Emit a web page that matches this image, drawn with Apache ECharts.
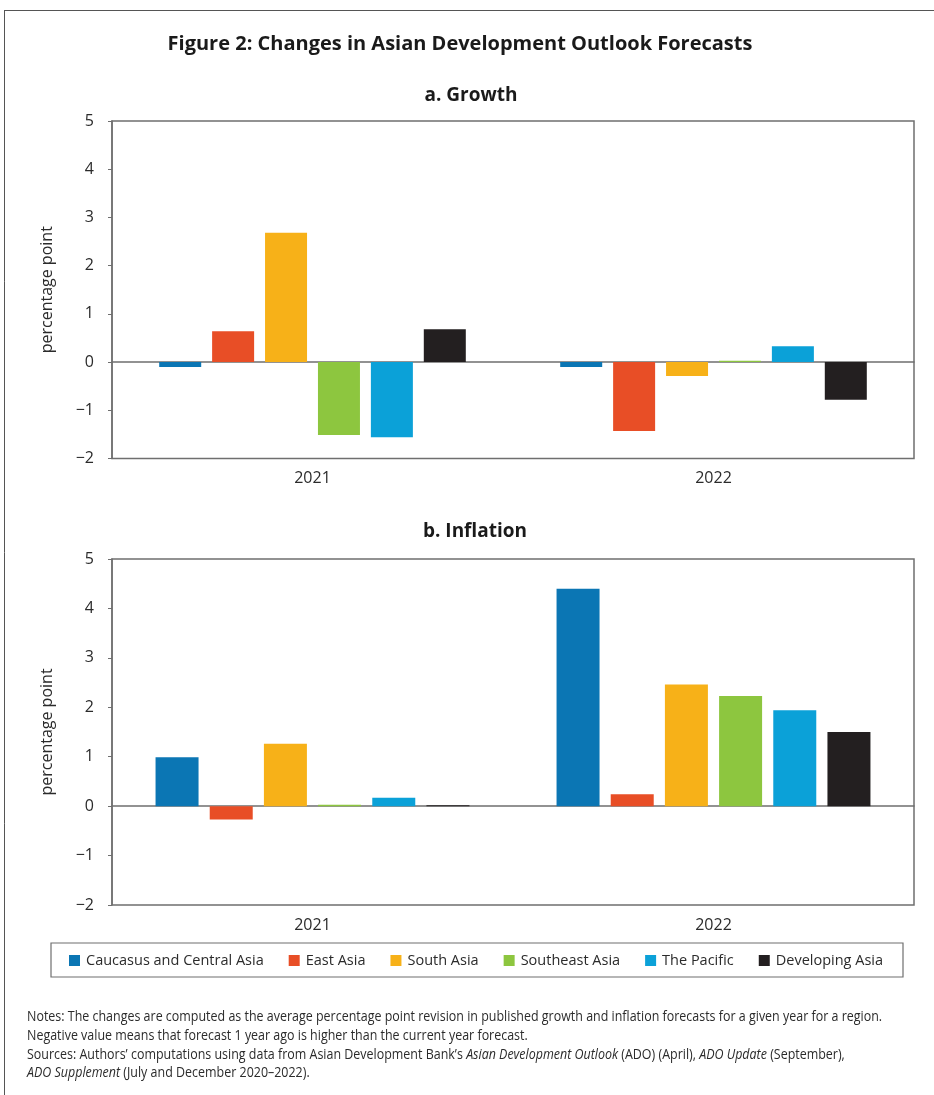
<!DOCTYPE html>
<html>
<head>
<meta charset="utf-8">
<title>Changes in Asian Development Outlook Forecasts</title>
<script src="https://cdn.jsdelivr.net/npm/echarts@6/dist/echarts.min.js"></script>
<style>
  html, body { margin: 0; padding: 0; background: #ffffff; }
  #chart { width: 934px; height: 1095px; }
</style>
</head>
<body>
<div id="chart"></div>
<script>
// Forecast years on the category axis
const years = ['2021', '2022'];

// Regions in legend order
const regions = ['Caucasus and Central Asia', 'East Asia', 'South Asia', 'Southeast Asia', 'The Pacific', 'Developing Asia'];
const regionColors = ['#0b76b4', '#e84e26', '#f7b118', '#8dc63f', '#0ba1d8', '#231f20'];

// a. Growth forecast revisions (percentage point), [2021, 2022]
const growthCaucasus = [-0.10, -0.10];
const growthEastAsia = [0.64, -1.43];
const growthSouthAsia = [2.68, -0.29];
const growthSoutheastAsia = [-1.51, 0.03];
const growthPacific = [-1.56, 0.33];
const growthDevelopingAsia = [0.68, -0.78];

// b. Inflation forecast revisions (percentage point), [2021, 2022]
const inflationCaucasus = [0.99, 4.40];
const inflationEastAsia = [-0.27, 0.24];
const inflationSouthAsia = [1.26, 2.46];
const inflationSoutheastAsia = [0.03, 2.23];
const inflationPacific = [0.17, 1.94];
const inflationDevelopingAsia = [0.02, 1.50];

// Value axis range shared by both panels
const yMin = -2;
const yMax = 5;
const yStep = 1;

const growthSeries = [growthCaucasus, growthEastAsia, growthSouthAsia, growthSoutheastAsia, growthPacific, growthDevelopingAsia];
const inflationSeries = [inflationCaucasus, inflationEastAsia, inflationSouthAsia, inflationSoutheastAsia, inflationPacific, inflationDevelopingAsia];

const FONT = '"Open Sans", "Noto Sans", sans-serif';
const TEXT = '#2b2b2b';
const FRAME = '#6f6f6f';

function valueAxis(gridIndex) {
  return {
    type: 'value',
    gridIndex: gridIndex,
    min: yMin,
    max: yMax,
    interval: yStep,
    name: 'percentage point',
    nameLocation: 'middle',
    nameGap: 57,
    nameRotate: 90,
    nameTextStyle: { fontFamily: FONT, fontSize: 16, color: TEXT },
    axisLine: { show: true, lineStyle: { color: FRAME, width: 1.5 } },
    axisTick: { show: true, length: 4, lineStyle: { color: FRAME, width: 1 } },
    axisLabel: {
      fontFamily: FONT, fontSize: 16, color: TEXT, margin: 18,
      formatter: v => String(v).replace('-', '\u2212')
    },
    splitLine: { show: false }
  };
}

function categoryAxis(gridIndex) {
  return {
    type: 'category',
    gridIndex: gridIndex,
    data: years,
    axisLine: { show: true, onZero: true, lineStyle: { color: FRAME, width: 1.5 } },
    axisTick: { show: false },
    axisLabel: { fontFamily: FONT, fontSize: 16, color: TEXT, margin: 12 },
    position: 'bottom'
  };
}

function barsFor(seriesValues, axisIndex, width) {
  return seriesValues.map((vals, i) => ({
    name: regions[i],
    type: 'bar',
    xAxisIndex: axisIndex,
    yAxisIndex: axisIndex,
    data: vals,
    barWidth: width,
    barGap: '26%',
    itemStyle: { color: regionColors[i] },
    emphasis: { disabled: true },
    animation: false
  }));
}

const chart = echarts.init(document.getElementById('chart'), null, { renderer: 'canvas' });

// Notes and sources beneath the legend
const noteLines = [
  'Notes: The changes are computed as the average percentage point revision in published growth and inflation forecasts for a given year for a region.',
  'Negative value means that forecast 1 year ago is higher than the current year forecast.',
  'Sources: Authors\u2019 computations using data from Asian Development Bank\u2019s {i|Asian Development Outlook} (ADO) (April), {i|ADO Update} (September),',
  '{i|ADO Supplement} (July and December 2020\u20132022).'
];

const noteElements = noteLines.map((line, k) => ({
  type: 'text',
  left: 27,
  top: 1010.5 + k * 18.6,
  scaleX: 0.89,
  style: {
    text: line,
    font: '14px ' + FONT,
    fill: TEXT,
    rich: { i: { fontStyle: 'italic', fontFamily: FONT, fontSize: 14, fill: TEXT } }
  }
}));

function heading(text, cx, top, size) {
  return {
    type: 'text', x: cx, y: top,
    style: { text: text, font: 'bold ' + size + 'px ' + FONT, fill: '#1a1a1a', align: 'center', textAlign: 'center', verticalAlign: 'top', textVerticalAlign: 'top' }
  };
}

chart.setOption({
  animation: false,
  grid: [
    { left: 112, right: 20, top: 121, height: 337.5, show: true, borderColor: FRAME, borderWidth: 1.5, backgroundColor: 'transparent' },
    { left: 112, right: 20, top: 559, height: 346, show: true, borderColor: FRAME, borderWidth: 1.5, backgroundColor: 'transparent' }
  ],
  xAxis: [categoryAxis(0), categoryAxis(1)],
  yAxis: [valueAxis(0), valueAxis(1)],
  legend: {
    data: regions,
    left: 69,
    top: 953,
    padding: 0,
    itemWidth: 11,
    itemHeight: 11,
    itemGap: 25,
    icon: 'rect',
    selectedMode: false,
    textStyle: { fontFamily: FONT, fontSize: 14.5, color: TEXT, padding: [0, 0, 0, 1] }
  },
  series: barsFor(growthSeries, 0, 42).concat(barsFor(inflationSeries, 1, 43)),
  graphic: [
    // page frame (top and left rules)
    { type: 'line', shape: { x1: 4, y1: 10.5, x2: 934, y2: 10.5 }, style: { stroke: '#555555', lineWidth: 1 }, silent: true },
    { type: 'line', shape: { x1: 4.5, y1: 10, x2: 4.5, y2: 1095 }, style: { stroke: '#555555', lineWidth: 1 }, silent: true },
    // legend box
    { type: 'rect', shape: { x: 51, y: 943, width: 852, height: 34 }, style: { fill: 'none', stroke: FRAME, lineWidth: 1.2 }, silent: true },
    // headings
    heading('Figure 2: Changes in Asian Development Outlook Forecasts', 460, 34, 20),
    heading('a. Growth', 471, 86, 19),
    heading('b. Inflation', 475, 522, 19)
  ].concat(noteElements)
});
</script>
</body>
</html>
